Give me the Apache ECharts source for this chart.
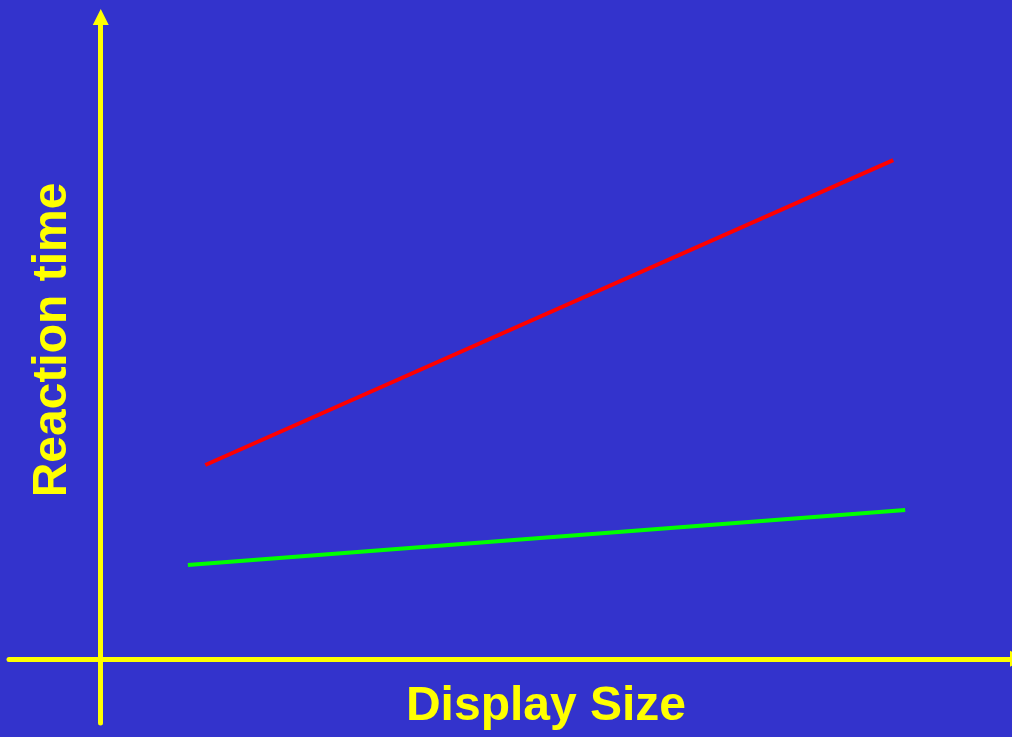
<!DOCTYPE html>
<html>
<head>
<meta charset="utf-8">
<script src="https://cdn.jsdelivr.net/npm/echarts@6/dist/echarts.min.js"></script>
<style>
  html, body { margin: 0; padding: 0; background: #3333CC; }
  #chart { width: 1012px; height: 737px; }
</style>
</head>
<body>
<div id="chart"></div>
<script>
// Schematic visual-search result: reaction time rises with display size,
// steeply for one search type and gently for the other.
const displaySize = [0.114, 0.864];
const steepRT = [0.302, 0.777];
const flatSize = [0.095, 0.877];
const flatRT = [0.146, 0.232];
const xTitle = 'Display Size';
const yTitle = 'Reaction time';

const yellow = '#FFFF00';

function pairs(xs, ys) {
  return xs.map((x, i) => [x, ys[i]]);
}

const chart = echarts.init(document.getElementById('chart'), null, { renderer: 'canvas' });

const axisLineStyle = { color: yellow, width: 5 };
const titleFont = 'bold 48px "Liberation Sans", Arial, sans-serif';

chart.setOption({
  backgroundColor: '#3333CC',
  animation: false,
  // the horizontal axis runs past the right edge so its arrow is cut off
  grid: { left: 9, width: 1009, top: 17, height: 706, containLabel: false, outerBoundsMode: 'none' },
  xAxis: {
    type: 'value', min: -0.1, max: 1.0,
    splitLine: { show: false }, axisTick: { show: false }, axisLabel: { show: false },
    axisLine: { show: true, onZero: true, lineStyle: axisLineStyle,
      symbol: ['none', 'triangle'], symbolSize: [16, 16] }
  },
  yAxis: {
    type: 'value', min: -0.1, max: 1.0,
    splitLine: { show: false }, axisTick: { show: false }, axisLabel: { show: false },
    axisLine: { show: true, onZero: true, lineStyle: axisLineStyle,
      symbol: ['none', 'triangle'], symbolSize: [16, 16] }
  },
  series: [
    {
      type: 'line', data: pairs(displaySize, steepRT), showSymbol: false,
      lineStyle: { color: '#FF0000', width: 4 }, z: 3
    },
    {
      type: 'line', data: pairs(flatSize, flatRT), showSymbol: false,
      lineStyle: { color: '#00FF00', width: 4 }, z: 3
    }
  ],
  graphic: [
    {
      type: 'text', x: 546, y: 707,
      style: { text: xTitle, font: titleFont,
        fill: yellow, align: 'center', verticalAlign: 'middle' }
    },
    {
      type: 'text', x: 53, y: 340, rotation: Math.PI / 2,
      style: { text: yTitle, font: titleFont,
        fill: yellow, align: 'center', verticalAlign: 'middle' }
    }
  ]
});
</script>
</body>
</html>
